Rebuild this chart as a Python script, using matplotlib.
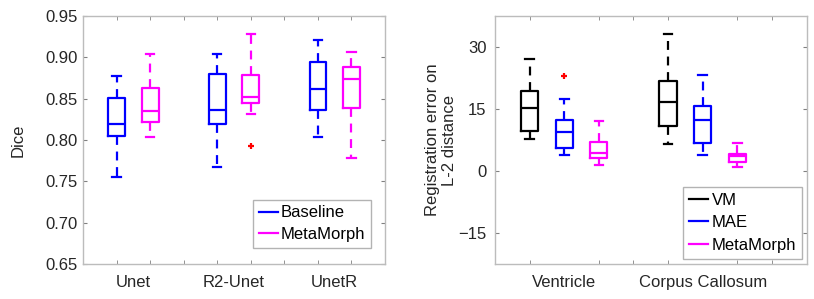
import matplotlib
matplotlib.use("Agg")
import matplotlib.pyplot as plt
from matplotlib.lines import Line2D

plt.rcParams['font.family'] = ['Liberation Sans', 'DejaVu Sans']

# ---- left panel: Dice ----
dice_groups = ["Unet", "R2-Unet", "UnetR"]
dice_series = ["Baseline", "MetaMorph"]
dice_colors = ["#0000ff", "#ff00ff"]
# per box: whisker low, q1, median, q3, whisker high
dice_low = [0.755, 0.804, 0.768, 0.832, 0.804, 0.778]
dice_q1 = [0.805, 0.822, 0.819, 0.845, 0.836, 0.839]
dice_med = [0.819, 0.835, 0.837, 0.852, 0.862, 0.874]
dice_q3 = [0.851, 0.863, 0.880, 0.879, 0.895, 0.888]
dice_high = [0.878, 0.904, 0.904, 0.928, 0.921, 0.907]
dice_fliers = [[], [], [], [0.793], [], []]
dice_pos = [1, 2, 4, 5, 7, 8]

# ---- right panel: registration error ----
reg_groups = ["Ventricle", "Corpus Callosum"]
reg_series = ["VM", "MAE", "MetaMorph"]
reg_colors = ["#000000", "#0000ff", "#ff00ff"]
reg_low = [7.8, 3.8, 1.5, 6.6, 3.8, 1.0]
reg_q1 = [9.8, 5.7, 3.2, 10.9, 6.8, 2.3]
reg_med = [15.2, 9.5, 4.4, 16.8, 12.3, 3.6]
reg_q3 = [19.4, 12.3, 7.0, 21.9, 15.8, 4.1]
reg_high = [27.1, 17.5, 12.1, 33.2, 23.3, 6.8]
reg_fliers = [[], [23.0], [], [], [], []]
reg_pos = [1, 2, 3, 5, 6, 7]

frame_col = "#bcbcbc"
text_col = "#262626"
dash = (0, (4, 3))


def draw(ax, pos, low, q1, med, q3, high, fliers, colors):
    n = len(colors)
    for i in range(len(pos)):
        c = colors[i % n]
        st = [dict(whislo=low[i], q1=q1[i], med=med[i], q3=q3[i],
                   whishi=high[i], fliers=fliers[i])]
        ax.bxp(st, positions=[pos[i]], widths=0.5, showfliers=True,
               manage_ticks=False,
               boxprops=dict(color=c, lw=1.6),
               medianprops=dict(color=c, lw=1.6),
               whiskerprops=dict(color=c, lw=1.6, linestyle=dash),
               capprops=dict(color=c, lw=1.6),
               flierprops=dict(marker='+', markeredgecolor='red',
                               markersize=5, markeredgewidth=1.6))


def style(ax, ticks_minor, label_pos, labels, xmax, ypad):
    ax.set_xlim(0, xmax)
    ax.set_xticks(label_pos)
    ax.set_xticklabels(labels)
    ax.set_xticks(ticks_minor, minor=True)
    ax.tick_params(axis='x', which='major', length=0, pad=8, labelsize=12,
                   colors=text_col)
    ax.tick_params(axis='x', which='minor', direction='in', length=3,
                   top=True, color='#808080')
    ax.tick_params(axis='y', direction='in', length=3, right=True,
                   color='#808080', labelsize=12, labelcolor=text_col,
                   pad=ypad)
    for s in ax.spines.values():
        s.set_color(frame_col)
        s.set_linewidth(1.0)


def legend(ax, colors, names, anchor, spacing):
    hs = [Line2D([], [], color=c, lw=1.6) for c in colors]
    leg = ax.legend(hs, names, loc='lower right', bbox_to_anchor=anchor,
                    fontsize=12, fancybox=False, edgecolor='#a0a0a0',
                    handlelength=1.15, handletextpad=0.2, borderpad=0.35,
                    labelspacing=spacing, borderaxespad=0)
    leg.get_frame().set_linewidth(1.0)


fig = plt.figure(figsize=(8.14, 2.99), dpi=100)
ax1 = fig.add_axes([0.102, 0.117, 0.371, 0.829])
ax2 = fig.add_axes([0.608, 0.117, 0.383, 0.829])

draw(ax1, dice_pos, dice_low, dice_q1, dice_med, dice_q3, dice_high,
     dice_fliers, dice_colors)
style(ax1, range(1, 9), [1.5, 4.5, 7.5], dice_groups, 9, 4)
ax1.set_ylim(0.65, 0.95)
ax1.set_yticks([0.65, 0.70, 0.75, 0.80, 0.85, 0.90, 0.95])
ax1.set_yticklabels(["%.2f" % v for v in ax1.get_yticks()])
ax1.set_ylabel("Dice", fontsize=12, color=text_col, labelpad=14)
legend(ax1, dice_colors, dice_series, (0.955, 0.065), 0.4)

draw(ax2, reg_pos, reg_low, reg_q1, reg_med, reg_q3, reg_high,
     reg_fliers, reg_colors)
style(ax2, range(1, 9), [2, 6], reg_groups, 9, 6)
ax2.set_ylim(-22.5, 37.5)
ax2.set_yticks([-15, 0, 15, 30])
ax2.set_ylabel("Registration error on\nL-2 distance", fontsize=12,
               color=text_col, labelpad=1)
legend(ax2, reg_colors, reg_series, (0.985, 0.022), 0.45)

fig.savefig("out.png", dpi=100)
